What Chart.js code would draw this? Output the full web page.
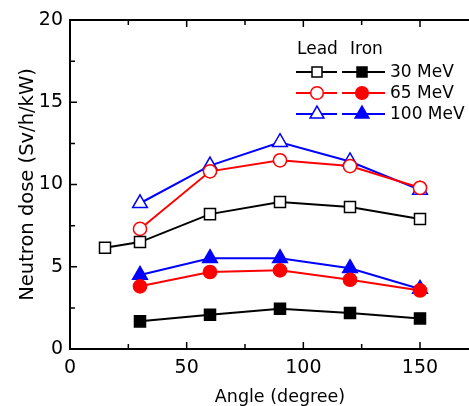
<!DOCTYPE html>
<html>
<head>
  <title>Neutron dose vs angle</title>
  <script src="https://cdn.jsdelivr.net/npm/chart.js@4/dist/chart.umd.min.js"></script>
  <style>
    html, body { margin: 0; padding: 0; background: #fff; overflow: hidden; }
    #wrap { width: 500px; height: 406px; }
  </style>
</head>
<body>
<div id="wrap">
  <canvas id="myChart" width="500" height="406"></canvas>
</div>

<script>
  // angles (degree)
  const angles = [30, 60, 90, 120, 150];
  const leadAngles30 = [15, 30, 60, 90, 120, 150];

  // neutron dose (Sv/h/kW)
  const lead30 = [6.15, 6.5, 8.2, 8.93, 8.63, 7.9];
  const lead65 = [7.3, 10.8, 11.47, 11.12, 9.8];
  const lead100 = [8.86, 11.15, 12.57, 11.4, 9.67];
  const iron30 = [1.68, 2.08, 2.45, 2.19, 1.86];
  const iron65 = [3.81, 4.68, 4.78, 4.21, 3.56];
  const iron100 = [4.5, 5.52, 5.52, 4.91, 3.65];

  const xTicks = [0, 50, 100, 150];
  const yTicks = [0, 5, 10, 15, 20];
  const legendLabels = ['30 MeV', '65 MeV', '100 MeV'];

  const FONT = 'DejaVu Sans';

  const pts = (xs, ys) => ys.map((y, i) => ({ x: xs[i], y: y }));

  function series(label, xs, ys, color, style, open) {
    return {
      label: label,
      data: pts(xs, ys),
      borderColor: color,
      borderWidth: 2,
      pointStyle: style,
      pointRadius: style === 'rect' ? 7.8 : (style === 'circle' ? 6.6 : 8.5),
      pointBorderWidth: 1.5,
      pointBorderColor: color,
      pointBackgroundColor: open ? '#fff' : color,
      tension: 0
    };
  }

  // draw a marker for the legend
  function marker(ctx, style, x, y, color, open) {
    ctx.save();
    ctx.beginPath();
    if (style === 'rect') {
      const s = 5;
      ctx.rect(x - s, y - s, 2 * s, 2 * s);
    } else if (style === 'circle') {
      ctx.arc(x, y, 6.3, 0, Math.PI * 2);
    } else {
      const r = 8;
      ctx.moveTo(x, y - r);
      ctx.lineTo(x + r * Math.sin(2 * Math.PI / 3), y + r / 2);
      ctx.lineTo(x - r * Math.sin(2 * Math.PI / 3), y + r / 2);
      ctx.closePath();
    }
    ctx.fillStyle = open ? '#fff' : color;
    ctx.fill();
    ctx.lineWidth = 1.5;
    ctx.strokeStyle = color;
    ctx.stroke();
    ctx.restore();
  }

  const framePlugin = {
    id: 'frame',
    afterDatasetsDraw(chart) {
      const { ctx, chartArea: a, scales } = chart;
      ctx.save();
      ctx.strokeStyle = '#000';
      ctx.lineWidth = 2;
      // top and right border
      ctx.beginPath();
      ctx.moveTo(a.left, a.top);
      ctx.lineTo(a.right, a.top);
      ctx.lineTo(a.right, a.bottom);
      ctx.stroke();
      // inward ticks
      ctx.lineWidth = 1.5;
      ctx.beginPath();
      for (let v = 25; v < 180; v += 25) {
        const px = scales.x.getPixelForValue(v);
        const len = v % 50 === 0 ? 7 : 5;
        ctx.moveTo(px, a.bottom);
        ctx.lineTo(px, a.bottom - len);
        ctx.moveTo(px, a.top);
        ctx.lineTo(px, a.top + len);
      }
      for (let v = 2.5; v < 20; v += 2.5) {
        const py = scales.y.getPixelForValue(v);
        const len = v % 5 === 0 ? 7 : 5;
        ctx.moveTo(a.left, py);
        ctx.lineTo(a.left + len, py);
        ctx.moveTo(a.right, py);
        ctx.lineTo(a.right - len, py);
      }
      ctx.stroke();

      // legend
      const colors = ['#000', '#ff0000', '#0000ff'];
      const styles = ['rect', 'circle', 'triangle'];
      const rows = [72, 93, 114];
      ctx.fillStyle = '#000';
      ctx.font = '17px "' + FONT + '"';
      ctx.textBaseline = 'middle';
      ctx.textAlign = 'left';
      ctx.fillText('Lead', 297, 50);
      ctx.fillText('Iron', 350, 50);
      rows.forEach((y, i) => {
        ctx.strokeStyle = colors[i];
        ctx.lineWidth = 2;
        ctx.beginPath();
        ctx.moveTo(296, y); ctx.lineTo(337, y);
        ctx.moveTo(342, y); ctx.lineTo(385, y);
        ctx.stroke();
        marker(ctx, styles[i], 317, y, colors[i], true);
        marker(ctx, styles[i], 362, y, colors[i], false);
        ctx.fillStyle = '#000';
        ctx.fillText(legendLabels[i], 390, y + 1);
      });
      ctx.restore();
    }
  };

  new Chart(document.getElementById('myChart').getContext('2d'), {
    type: 'line',
    data: {
      datasets: [
        series('Lead 30 MeV', leadAngles30, lead30, '#000', 'rect', true),
        series('Iron 30 MeV', angles, iron30, '#000', 'rect', false),
        series('Lead 65 MeV', angles, lead65, '#ff0000', 'circle', true),
        series('Iron 65 MeV', angles, iron65, '#ff0000', 'circle', false),
        series('Lead 100 MeV', angles, lead100, '#0000ff', 'triangle', true),
        series('Iron 100 MeV', angles, iron100, '#0000ff', 'triangle', false)
      ]
    },
    options: {
      responsive: false,
      animation: false,
      layout: { padding: { top: 20, right: 8, left: 0, bottom: 0 } },
      plugins: { legend: { display: false }, tooltip: { enabled: false } },
      scales: {
        x: {
          type: 'linear',
          min: 0,
          max: 180,
          afterBuildTicks: s => { s.ticks = xTicks.map(v => ({ value: v })); },
          afterFit: s => { s.height = 57; },
          grid: { display: false, drawTicks: false },
          border: { color: '#000', width: 2 },
          ticks: { color: '#000', padding: 8, font: { family: FONT, size: 19 } },
          title: {
            display: true,
            text: 'Angle (degree)',
            color: '#000',
            font: { family: FONT, size: 17.5 },
            padding: { top: 0, bottom: -2 }
          }
        },
        y: {
          min: 0,
          max: 20,
          afterBuildTicks: s => { s.ticks = yTicks.map(v => ({ value: v })); },
          afterFit: s => { s.width = 70; },
          grid: { display: false, drawTicks: false },
          border: { color: '#000', width: 2 },
          ticks: { color: '#000', padding: 7, font: { family: FONT, size: 19 } },
          title: {
            display: true,
            text: 'Neutron dose (Sv/h/kW)',
            color: '#000',
            font: { family: FONT, size: 19.5 },
            padding: { top: 16, bottom: 0 }
          }
        }
      }
    },
    plugins: [framePlugin]
  });
</script>
</body>
</html>
